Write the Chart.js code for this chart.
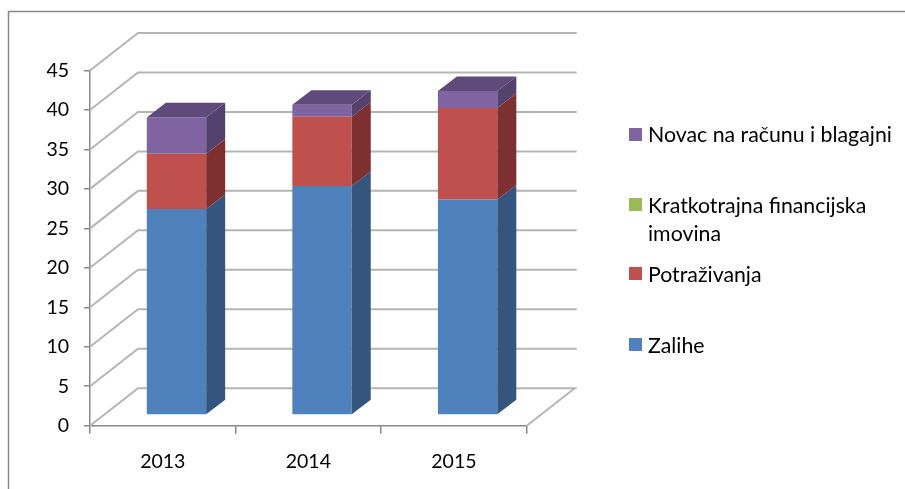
<!DOCTYPE html>
<html>
<head>
<meta charset="utf-8">
<script src="https://cdn.jsdelivr.net/npm/chart.js@4.4.1/dist/chart.umd.min.js"></script>
<style>
  html, body { margin: 0; padding: 0; background: #fff; }
  #wrap { position: relative; width: 905px; height: 489px; overflow: hidden; }
  #legend { position: absolute; left: 0; top: 0; font-family: Lato, "Open Sans", sans-serif; font-size: 21.3px; color: #000; }
  .item { position: absolute; left: 629px; width: 276px; }
  .box { position: absolute; left: 0; width: 13px; height: 13px; }
  .label { margin-left: 19px; line-height: 28.3px; width: 256px; }
</style>
</head>
<body>
<div id="wrap">
  <canvas id="assetsChart" width="905" height="489"></canvas>
  <div id="legend"></div>
</div>
<script>
const years = ["2013", "2014", "2015"];
const zalihe = [26.1, 29.0, 27.3];
const financijska = [0, 0, 0];
const potrazivanja = [7.0, 8.8, 11.6];
const novac = [4.6, 1.5, 2.15];
const seriesNames = ["Zalihe", "Kratkotrajna financijska imovina", "Potraživanja", "Novac na računu i blagajni"];

// front / side / top shades (Office 2007 palette)
const frontColors = ["#4f81bd", "#9bbb59", "#c0504d", "#8064a2"];
const sideColors = ["#34557e", "#68803a", "#7d302f", "#54426e"];
const topColors = ["#3e6595", "#7a9645", "#943b39", "#5f4a7b"];

// oblique projection offsets
const WALL_DX = 48, WALL_DY = -37.5;
const BAR_OX = 13.7, BAR_OY = -10.7;
const BAR_DX = 19, BAR_DY = -14.6;

const depth3d = {
  id: "depth3d",
  beforeDraw(chart) {
    const { ctx } = chart;
    ctx.save();
    ctx.strokeStyle = "#888888";
    ctx.lineWidth = 1.5;
    ctx.beginPath();
    ctx.moveTo(8.5, 489);
    ctx.lineTo(8.5, 11.5);
    ctx.lineTo(905, 11.5);
    ctx.stroke();
    ctx.restore();
  },
  beforeDatasetsDraw(chart) {
    const { ctx, chartArea, scales } = chart;
    const y = scales.y;
    ctx.save();
    ctx.strokeStyle = "#b5b5b5";
    ctx.lineWidth = 2;
    y.ticks.forEach((t) => {
      const py = y.getPixelForValue(t.value);
      ctx.beginPath();
      ctx.moveTo(chartArea.left, py);
      ctx.lineTo(chartArea.left + WALL_DX, py + WALL_DY);
      ctx.lineTo(chartArea.right + WALL_DX + 2, py + WALL_DY);
      ctx.stroke();
    });
    const p0 = y.getPixelForValue(0);
    ctx.beginPath();
    ctx.moveTo(chartArea.right, p0);
    ctx.lineTo(chartArea.right + WALL_DX, p0 + WALL_DY);
    ctx.stroke();
    ctx.restore();
    // bars sit in the middle of the depth
    ctx.save();
    ctx.translate(BAR_OX, BAR_OY);
  },
  afterDatasetsDraw(chart) {
    const { ctx } = chart;
    const tops = [];
    chart.data.datasets.forEach((ds, di) => {
      const meta = chart.getDatasetMeta(di);
      meta.data.forEach((bar, i) => {
        const p = bar.getProps(["x", "y", "base", "width"], true);
        const top = Math.min(p.y, p.base);
        const bottom = Math.max(p.y, p.base);
        if (bottom - top < 0.5) return;
        const right = p.x + p.width / 2;
        ctx.fillStyle = sideColors[di];
        ctx.beginPath();
        ctx.moveTo(right, bottom);
        ctx.lineTo(right, top);
        ctx.lineTo(right + BAR_DX, top + BAR_DY);
        ctx.lineTo(right + BAR_DX, bottom + BAR_DY);
        ctx.closePath();
        ctx.fill();
        tops[i] = { di, top, left: p.x - p.width / 2, right };
      });
    });
    tops.forEach((t) => {
      ctx.fillStyle = topColors[t.di];
      ctx.beginPath();
      ctx.moveTo(t.left, t.top);
      ctx.lineTo(t.left + BAR_DX, t.top + BAR_DY);
      ctx.lineTo(t.right + BAR_DX, t.top + BAR_DY);
      ctx.lineTo(t.right, t.top);
      ctx.closePath();
      ctx.fill();
    });
    ctx.restore();
  },
};

const ctx = document.getElementById("assetsChart");
new Chart(ctx, {
  type: "bar",
  data: {
    labels: years,
    datasets: [zalihe, financijska, potrazivanja, novac].map((values, i) => ({
      label: seriesNames[i],
      data: values,
      backgroundColor: frontColors[i],
      borderWidth: 0,
      categoryPercentage: 1,
      barPercentage: 0.408,
    })),
  },
  options: {
    responsive: false,
    animation: false,
    devicePixelRatio: 1,
    layout: { padding: { top: 70.5, right: 378.3, left: 0, bottom: 0 } },
    plugins: { legend: { display: false }, tooltip: { enabled: false } },
    scales: {
      x: {
        stacked: true,
        afterFit: (scale) => { scale.height = 63.3; },
        grid: { drawOnChartArea: false, color: "#888888", tickLength: 8, lineWidth: 1.5 },
        border: { color: "#888888", width: 1.5 },
        ticks: { color: "#000", padding: 16, font: { family: "Lato", size: 19.5 } },
      },
      y: {
        stacked: true,
        min: 0,
        max: 45,
        afterFit: (scale) => { scale.width = 90; },
        grid: { drawOnChartArea: false, color: "#888888", tickLength: 6, lineWidth: 1.5 },
        border: { color: "#888888", width: 1.5 },
        ticks: { stepSize: 5, color: "#000", padding: 15, font: { family: "Lato", size: 19.5 } },
      },
    },
  },
  plugins: [depth3d],
});

// legend, top entry first like the stacking order
const legendTops = [134.3, 205, 274, 345];
const legend = document.getElementById("legend");
[3, 1, 2, 0].forEach((si, k) => {
  const item = document.createElement("div");
  item.className = "item";
  item.style.top = (legendTops[k] - 14.15) + "px";
  const box = document.createElement("div");
  box.className = "box";
  box.style.top = "7.65px";
  box.style.background = frontColors[si];
  const label = document.createElement("div");
  label.className = "label";
  label.textContent = seriesNames[si];
  item.appendChild(box);
  item.appendChild(label);
  legend.appendChild(item);
});
</script>
</body>
</html>
